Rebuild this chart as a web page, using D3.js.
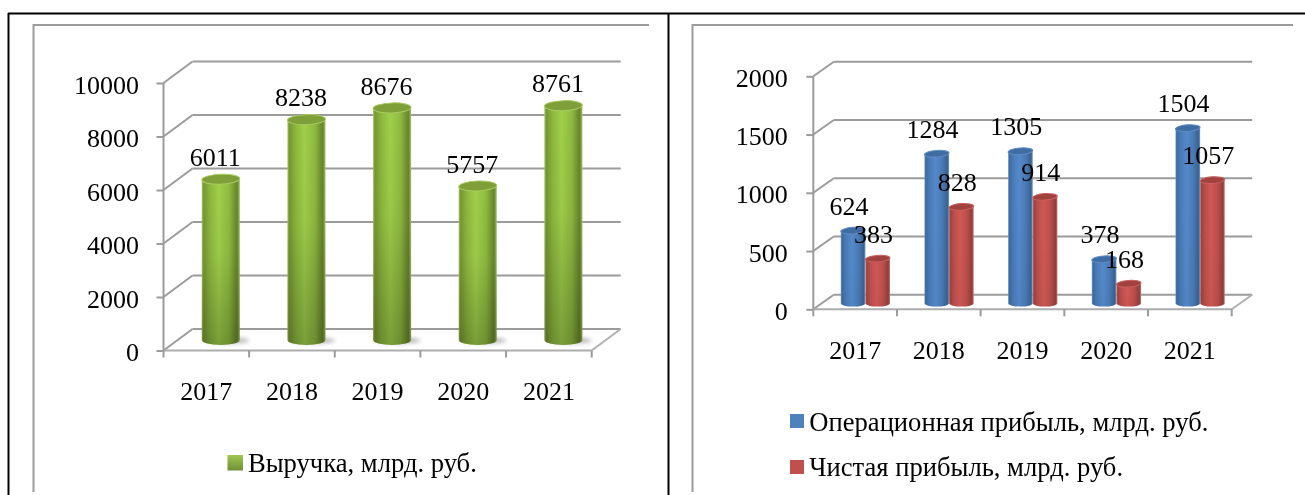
<!DOCTYPE html>
<html>
<head>
<meta charset="utf-8">
<script src="https://cdn.jsdelivr.net/npm/d3@7"></script>
<style>
html,body{margin:0;padding:0;background:#fff;overflow:hidden}
svg{display:block;filter:blur(.35px)}
text{font-family:"Liberation Serif","Times New Roman",serif;font-size:26px;fill:#000}
text.lg{font-size:26.6px}
</style>
</head>
<body>
<svg id="c" width="1305" height="495"></svg>
<script>
const years = ["2017","2018","2019","2020","2021"];
const revenue = [6011,8238,8676,5757,8761];
const operatingProfit = [624,1284,1305,378,1504];
const netProfit = [383,828,914,168,1057];
const revenueTicks = [0,2000,4000,6000,8000,10000];
const profitTicks = [0,500,1000,1500,2000];
const revenueLegend = "Выручка, млрд. руб.";
const operatingLegend = "Операционная прибыль, млрд. руб.";
const netLegend = "Чистая прибыль, млрд. руб.";

const GREY = "#9b9b9b";
const svg = d3.select("#c");
const defs = svg.append("defs");
defs.append("filter").attr("id","soft").attr("x","-30%").attr("y","-100%").attr("width","160%").attr("height","300%")
  .append("feGaussianBlur").attr("stdDeviation",2.2);

function sideGradient(id, edgeL, soft, mid, softR, edgeR, rim){
  const g = defs.append("linearGradient").attr("id",id);
  [[0,rim],[.05,edgeL],[.22,soft],[.45,mid],[.72,softR],[.93,edgeR],[1,rim]].forEach(([o,c])=>
    g.append("stop").attr("offset",o).attr("stop-color",c));
}
sideGradient("gGreen","#77982f","#8db83e","#a0d04a","#8fba40","#668529","#a3c26a");
sideGradient("gBlue","#3d6aa1","#4b7cb8","#5489ca","#4a7ab5","#38628f","#7099c9");
sideGradient("gRed","#9c4340","#bd4f4c","#cf5855","#bb4e4b","#8f3d3b","#c97370");
function darkGrad(id,op){
  const dark = defs.append("linearGradient").attr("id",id)
    .attr("gradientUnits","objectBoundingBox").attr("x1",0).attr("x2",0).attr("y1",0).attr("y2",1);
  dark.append("stop").attr("offset",0).attr("stop-color","#000").attr("stop-opacity",0);
  dark.append("stop").attr("offset",.45).attr("stop-color","#000").attr("stop-opacity",op*.15);
  dark.append("stop").attr("offset",1).attr("stop-color","#000").attr("stop-opacity",op);
}
darkGrad("gDark",.24);
darkGrad("gDarkSoft",.03);
const lg = defs.append("linearGradient").attr("id","gLegend").attr("x1",0).attr("x2",0).attr("y1",0).attr("y2",1);
lg.append("stop").attr("offset",0).attr("stop-color","#9fc850");
lg.append("stop").attr("offset",1).attr("stop-color","#6f8f35");

// page rules
const frame = svg.append("g");
const line=(g,x1,y1,x2,y2,c,w)=>g.append("line").attr("x1",x1).attr("y1",y1).attr("x2",x2).attr("y2",y2).attr("stroke",c).attr("stroke-width",w);
line(frame,8,13.5,1305,13.5,"#000",2);
line(frame,8.5,13,8.5,495,"#000",2);
line(frame,668.5,13,668.5,495,"#000",2);
line(frame,33.5,25,649,25,GREY,2);
line(frame,33.5,24,33.5,492,GREY,2);
line(frame,692.5,25,1293,25,GREY,2);
line(frame,692.5,24,692.5,492,GREY,2);

function panel(o){
  const g = svg.append("g");
  const x = d3.scaleBand().domain(years).range([o.x0,o.x1]);
  const y = d3.scaleLinear().domain(o.domain).range([o.y0,o.yTop]);
  const dx = o.dx, dy = o.dy;

  o.ticks.forEach(t=>{
    line(g,o.x0,y(t),o.x0+dx,y(t)-dy,GREY,2);
    line(g,o.x0+dx,y(t)-dy,o.x1+dx,y(t)-dy,GREY,2);
  });
  line(g,o.x1,o.y0,o.x1+dx,o.y0-dy,"#b0b0b0",2);

  const ya = g.append("g").attr("transform",`translate(${o.x0},0)`)
    .call(d3.axisLeft(y).tickValues(o.ticks).tickSize(7).tickFormat(d3.format("d")));
  ya.select(".domain").attr("stroke",GREY).attr("stroke-width",2).attr("d",`M0,${o.yTop}V${o.y0}`);
  ya.selectAll("line").attr("stroke",GREY).attr("stroke-width",2);
  ya.selectAll("text").attr("x",o.yLabelX-o.x0).attr("dy",0).attr("y",10);
  ya.attr("font-family",null).attr("font-size",null);

  const xa = g.append("g").attr("transform",`translate(0,${o.y0})`)
    .call(d3.axisBottom(x).tickSize(0));
  xa.select(".domain").attr("stroke","#adadad").attr("stroke-width",2).attr("d",`M${o.x0},0H${o.x1}`);
  xa.selectAll("text").attr("y",o.catBaseline-o.y0).attr("dy",0);
  xa.attr("font-family",null).attr("font-size",null);
  const edges = years.map(d=>x(d)).concat([o.x1]);
  g.selectAll(".ct").data(edges).join("line").attr("x1",d=>d).attr("x2",d=>d)
    .attr("y1",o.y0).attr("y2",o.y0+7).attr("stroke",GREY).attr("stroke-width",2);

  const n = o.series.length;
  const rx = o.barW/2;
  const cx = (yr,i)=> x(yr)+x.bandwidth()/2+dx/2 + (i-(n-1)/2)*o.barW;
  const topY = v => y(v)-o.baseLift;
  const baseY = o.y0-o.baseLift;
  if(o.shadow) o.series.forEach((s,i)=>{
    s.values.forEach((v,k)=>{
      const c = cx(years[k],i);
      g.append("ellipse").attr("cx",c+rx*.35).attr("cy",baseY+o.ry*.1).attr("rx",rx*1.15).attr("ry",o.ry*.6)
        .attr("fill","#666").attr("opacity",.5).attr("filter","url(#soft)");
    });
  });
  o.series.forEach((s,i)=>{
    s.values.forEach((v,k)=>{
      const c = cx(years[k],i), ty = topY(v);
      const d = `M${c-rx},${ty}V${baseY}A${rx},${o.ry} 0 0 0 ${c+rx},${baseY}V${ty}Z`;
      g.append("path").attr("d",d).attr("fill",`url(#${s.grad})`);
      g.append("path").attr("d",d).attr("fill",`url(#${o.dark})`);
      g.append("ellipse").attr("cx",c).attr("cy",ty).attr("rx",rx).attr("ry",o.ry)
        .attr("transform",`rotate(${o.tilt} ${c} ${ty})`)
        .attr("fill",s.cap).attr("stroke",s.capRim).attr("stroke-width",1);
    });
  });
  o.series.forEach((s,i)=>{
    g.selectAll(null).data(s.values).join("text")
      .attr("text-anchor","middle")
      .attr("x",(v,k)=>cx(years[k],i)-o.labelShift)
      .attr("y",v=>topY(v)-o.labelRise)
      .text(v=>v);
  });
  o.legend.forEach(l=>{
    g.append("rect").attr("x",l.sx).attr("y",l.sy).attr("width",l.ss).attr("height",l.ss).attr("fill",l.fill);
    g.append("text").attr("class","lg").attr("x",l.tx).attr("y",l.ty).text(l.text);
  });
}

panel({
  x0:163.5,x1:591.7,y0:350.5,yTop:83,domain:[0,10000],ticks:revenueTicks,
  dx:29,dy:21.5,yLabelX:139,catBaseline:400,shadow:true,dark:"gDark",
  barW:38,ry:5,tilt:-2,baseLift:10.5,labelShift:5.5,labelRise:13.3,
  series:[{values:revenue,grad:"gGreen",cap:"#7f9f38",capRim:"#a8cc62"}],
  legend:[{sx:227.5,sy:455,ss:15.5,fill:"url(#gLegend)",tx:248,ty:471.5,text:revenueLegend}]
});
panel({
  x0:813.3,x1:1231.7,y0:309.3,yTop:76.3,domain:[0,2000],ticks:profitTicks,
  dx:20.5,dy:14.6,yLabelX:787.7,catBaseline:359.3,shadow:false,dark:"gDarkSoft",
  barW:24.6,ry:3.3,tilt:-4,baseLift:6,labelShift:4.2,labelRise:16,
  series:[
    {values:operatingProfit,grad:"gBlue",cap:"#3f6ca3",capRim:"#5f8cc4"},
    {values:netProfit,grad:"gRed",cap:"#a2423f",capRim:"#c9605d"}
  ],
  legend:[
    {sx:790,sy:414,ss:14,fill:"#4f81bd",tx:809.3,ty:431,text:operatingLegend},
    {sx:790,sy:460,ss:14,fill:"#c0504d",tx:809.3,ty:476,text:netLegend}
  ]
});
</script>
</body>
</html>
